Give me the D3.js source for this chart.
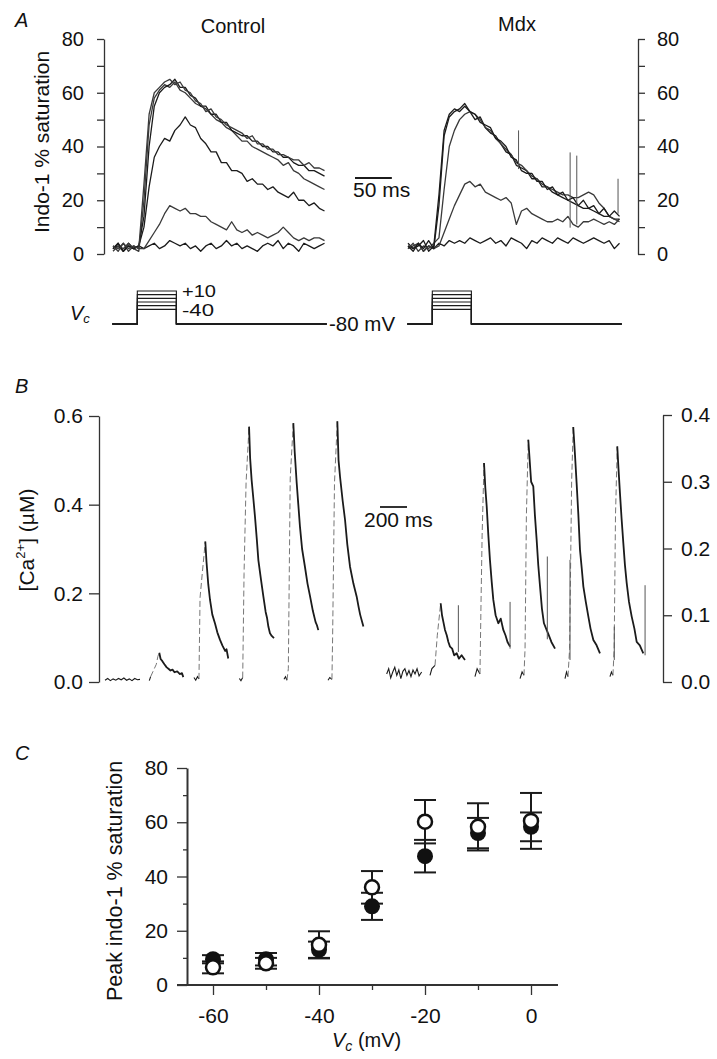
<!DOCTYPE html>
<html><head><meta charset="utf-8">
<script src="https://cdn.jsdelivr.net/npm/d3@7"></script>
<style>
body{margin:0;background:#fff}
svg{display:block}
text{font-family:"Liberation Sans",Arial,Helvetica,sans-serif;fill:#111}
</style>
</head><body>
<svg id="fig" width="717" height="1059"></svg>
<script>
// ---------------- Panel A: indo-1 % saturation traces (time in ms) ----------------
const tA = [0,7,14,21,28,35,42,49,56,63,70,77,84,91,98,105,112,119,126,133,140,147,154,161,168,175,182,189,196,203,210,217,224,231,238,245,252,259,266,273,280,287];
const ctrlA1 = [3,1,4,2,3,2,26,52,60,62,64,65,63,64,61,60,57,56,53,54,51,50,48,47,46,45,43,44,41,41,39,39,37,37,36,35,35,33,34,32,32,31];
const ctrlA2 = [2,4,1,3,2,3,14,40,55,60,62,63,65,62,62,59,58,55,55,52,52,49,49,46,45,44,44,42,42,40,40,38,38,36,36,34,33,33,31,31,30,29];
const ctrlA3 = [1,3,2,4,2,1,20,48,58,61,63,62,64,61,60,58,56,55,54,52,50,49,47,46,44,42,42,40,39,38,37,36,35,33,34,31,30,28,27,26,25,24];
const ctrlA4 = [2,3,1,4,2,3,10,25,36,40,43,42,46,48,51,48,47,43,41,38,38,34,34,31,31,30,27,28,26,26,24,25,23,22,21,23,20,20,18,19,17,16];
const ctrlA5 = [3,2,4,1,3,2,2,5,8,11,15,18,17,16,17,15,15,14,14,12,11,10,9,12,9,8,9,7,8,7,6,7,8,10,8,6,5,6,5,6,6,5];
const ctrlA6 = [2,4,1,3,2,3,2,3,4,2,3,5,4,3,4,2,3,1,3,4,2,3,5,3,4,2,3,2,1,3,4,3,5,2,4,3,1,4,3,2,3,4];
const mdxA1 = [3,1,4,2,5,2,18,44,51,53,54,56,53,52,49,48,47,43,42,40,36,35,31,30,30,27,27,24,25,22,23,20,21,18,20,17,18,15,17,14,16,14];
const mdxA2 = [2,4,1,3,2,4,6,24,40,46,50,52,53,52,50,47,46,43,41,39,37,34,33,31,29,28,26,25,24,23,22,22,21,21,22,23,22,19,17,14,13,12];
const mdxA3 = [4,2,3,5,1,3,22,46,52,54,53,55,53,50,51,47,45,44,41,38,37,33,32,31,28,28,25,25,23,22,21,20,19,18,17,17,16,15,14,14,13,13];
const mdxA4 = [2,3,4,1,3,2,3,8,13,18,22,26,27,25,26,23,22,21,20,21,19,11,16,17,15,14,13,12,12,13,12,14,11,10,12,12,13,12,11,12,11,13];
const mdxA5 = [3,2,4,1,3,2,4,3,5,4,5,4,6,5,4,5,6,4,5,3,6,5,4,2,5,4,6,5,4,6,5,4,6,5,4,5,6,5,4,5,2,4];
// artefact spikes in Mdx traces: [time, from, to]
const mdxSpikesA = [[150,46,31.6],[220,37.8,9.8],[229,36.6,11],[285,28,15]];
const yTicksA = [0,10,20,30,40,50,60,70,80];
// voltage protocol
const vcLevels = [10,0,-10,-20,-30,-40];
const vcHold = -80;
const vcPulse = [33,86];

// ---------------- Panel B: [Ca2+] (uM) sweeps, time in ms ----------------
const ctrlSweepsB = [
  [[0,0.004],[20,0.008],[40,0.003],[60,0.007],[80,0.004],[100,0.008],[120,0.005],[140,0.009],[160,0.004],[180,0.007],[200,0.003],[220,0.008],[240,0.005],[259,0.006]],
  [[328,0.003],[338,0.012],[380,0.04],[392,0.058],[402,0.066],[412,0.052],[425,0.047],[440,0.04],[457,0.033],[470,0.03],[485,0.026],[500,0.028],[515,0.022],[535,0.024],[555,0.018],[570,0.02],[580,0.011]],
  [[659,0.01],[672,0.004],[685,0.012],[696,0.007],[704,0.19],[722,0.25],[743,0.317],[752,0.27],[765,0.22],[778,0.185],[795,0.152],[815,0.132],[832,0.112],[852,0.095],[870,0.082],[890,0.07],[900,0.074],[913,0.053]],
  [[995,0.008],[1007,0.003],[1020,0.01],[1030,0.245],[1045,0.45],[1067,0.576],[1075,0.505],[1086,0.456],[1100,0.41],[1111,0.373],[1125,0.32],[1136,0.275],[1155,0.232],[1173,0.193],[1190,0.158],[1200,0.145],[1210,0.125],[1222,0.11],[1235,0.104],[1252,0.099]],
  [[1326,0.006],[1337,0.012],[1348,0.004],[1358,0.03],[1372,0.46],[1395,0.584],[1405,0.52],[1420,0.449],[1432,0.4],[1444,0.351],[1460,0.3],[1481,0.26],[1500,0.222],[1519,0.193],[1540,0.16],[1560,0.135],[1570,0.128],[1580,0.117]],
  [[1652,0.004],[1665,0.01],[1681,0.006],[1686,0.1],[1700,0.45],[1721,0.588],[1730,0.5],[1741,0.463],[1760,0.41],[1778,0.366],[1795,0.31],[1815,0.26],[1840,0.222],[1864,0.193],[1878,0.17],[1890,0.152],[1914,0.125]]
];
const ctrlBlipEndB = [13,1,3,2,2,2];   // index where the stimulus gap starts
const ctrlPeakB    = [13,4,6,5,5,5];   // index of the peak (dashed rise ends)
const mdxSweepsB = [
  [[5,0.012],[20,0.02],[35,0.006],[50,0.015],[65,0.022],[80,0.01],[95,0.018],[110,0.005],[125,0.016],[140,0.02],[155,0.01],[170,0.017],[185,0.008],[200,0.018],[215,0.012],[230,0.02],[245,0.009],[264,0.015]],
  [[326,0.01],[340,0.02],[363,0.025],[380,0.07],[405,0.118],[415,0.1],[425,0.09],[437,0.078],[450,0.07],[462,0.06],[474,0.053],[490,0.05],[505,0.04],[524,0.043],[540,0.035],[560,0.04],[585,0.033]],
  [[659,0.008],[675,0.02],[696,0.012],[704,0.12],[712,0.22],[726,0.328],[736,0.29],[746,0.263],[758,0.22],[770,0.183],[783,0.15],[795,0.123],[812,0.1],[832,0.088],[850,0.095],[869,0.078],[885,0.07],[900,0.06],[919,0.053]],
  [[993,0.005],[1008,0.015],[1022,0.01],[1030,0.05],[1040,0.25],[1054,0.363],[1065,0.33],[1075,0.3],[1091,0.293],[1103,0.25],[1116,0.213],[1128,0.175],[1141,0.143],[1155,0.11],[1170,0.088],[1186,0.08],[1202,0.072],[1225,0.06],[1252,0.05]],
  [[1326,0.005],[1337,0.015],[1348,0.008],[1360,0.05],[1375,0.3],[1387,0.382],[1400,0.34],[1412,0.298],[1425,0.25],[1437,0.198],[1450,0.17],[1462,0.143],[1480,0.12],[1499,0.098],[1515,0.08],[1536,0.063],[1560,0.055],[1585,0.043]],
  [[1659,0.008],[1670,0.015],[1681,0.01],[1690,0.05],[1700,0.25],[1713,0.353],[1722,0.32],[1733,0.283],[1745,0.245],[1758,0.208],[1770,0.175],[1783,0.148],[1800,0.12],[1820,0.098],[1840,0.08],[1857,0.06],[1880,0.055],[1906,0.043]]
];
const mdxBlipEndB = [17,2,2,2,2,2];
const mdxPeakB    = [17,4,5,5,5,5];
const mdxSpikesB = [[536,0.115,0.045],[919,0.12,0.05],[1195,0.188,0.064],[1363,0.183,0.033],[1691,0.083,0.033],[1919,0.145,0.04]];
const yTicksBl = [0,0.2,0.4,0.6];
const yTicksBr = [0,0.1,0.2,0.3,0.4];

// ---------------- Panel C: peak indo-1 % saturation vs Vc ----------------
const vcC = [-60,-50,-40,-30,-20,-10,0];
const closedC = [9.5,9.5,13,29,47.5,56,58.3];
const closedErrC = [1.5,2.3,3,5,6,5.6,5.3];
const openC = [6.5,8,14.8,36,60.2,58.3,60.5];
const openErrC = [2.2,2,5,6,8,8.7,10.3];
const xTicksC = [-60,-50,-40,-30,-20,-10,0];
const yTicksC = [0,10,20,30,40,50,60,70,80];

// ================= drawing =================
const svg = d3.select("#fig");
const FONT = '"Liberation Sans",Arial,Helvetica,sans-serif';
const INK = "#1b1b1b";

function styleAxis(g, fs) {
  g.attr("font-family", FONT).attr("font-size", fs);
  g.select(".domain").attr("stroke", "#333").attr("stroke-width", 1.3);
  g.selectAll(".tick line").attr("stroke", "#333").attr("stroke-width", 1.3);
  g.selectAll(".tick text").attr("fill", "#111");
}

// ---- Panel A ----
const xAc = d3.scaleLinear().domain([0, 292]).range([113, 328.2]);
const xAm = d3.scaleLinear().domain([0, 292]).range([408, 623.2]);
const yA = d3.scaleLinear().domain([0, 80]).range([254, 39]);

const gAl = svg.append("g").attr("transform", "translate(104,0)")
  .call(d3.axisLeft(yA).tickValues(yTicksA).tickSize(7).tickSizeOuter(0).tickPadding(13)
    .tickFormat(d => d % 20 === 0 ? d : ""));
styleAxis(gAl, 20);
const gAr = svg.append("g").attr("transform", "translate(638,0)")
  .call(d3.axisRight(yA).tickValues(yTicksA).tickSize(7).tickSizeOuter(0).tickPadding(12)
    .tickFormat(d => d % 20 === 0 ? d : ""));
styleAxis(gAr, 20);

function drawA(x, traces) {
  traces.forEach((vals, i) => {
    const pts = tA.map((t, j) => [t, vals[j]]);
    svg.append("path").datum(pts)
      .attr("d", d3.line().x(d => x(d[0])).y(d => yA(d[1])))
      .attr("fill", "none").attr("stroke", i % 2 ? "#3a3a3a" : INK).attr("stroke-width", 1.3)
      .attr("stroke-linejoin", "round");
  });
}
drawA(xAc, [ctrlA6, ctrlA5, ctrlA4, ctrlA3, ctrlA2, ctrlA1]);
drawA(xAm, [mdxA5, mdxA4, mdxA3, mdxA2, mdxA1]);
svg.append("g").selectAll("line").data(mdxSpikesA).join("line")
  .attr("x1", d => xAm(d[0])).attr("x2", d => xAm(d[0]))
  .attr("y1", d => yA(d[1])).attr("y2", d => yA(d[2]))
  .attr("stroke", "#555").attr("stroke-width", 1);

// titles
svg.append("text").attr("x", 233).attr("y", 33).attr("text-anchor", "middle").attr("font-size", 20).text("Control");
svg.append("text").attr("x", 517).attr("y", 31).attr("text-anchor", "middle").attr("font-size", 20).text("Mdx");
// y label A
svg.append("text").attr("transform", "translate(49,142) rotate(-90)").attr("text-anchor", "middle")
  .attr("font-size", 21).text("Indo-1 % saturation");
// panel letters
[["A", 15, 27], ["B", 15, 393], ["C", 15, 760]].forEach(([t, x, y]) =>
  svg.append("text").attr("x", x).attr("y", y).attr("font-size", 20).attr("font-style", "italic").text(t));

// 50 ms scale bar (control time scale)
svg.append("line").attr("x1", 355).attr("x2", 355 + (xAc(50) - xAc(0))).attr("y1", 178).attr("y2", 178)
  .attr("stroke", INK).attr("stroke-width", 1.8);
svg.append("text").attr("x", 353).attr("y", 197).attr("font-size", 21).text("50 ms");

// Voltage protocol
const yV = d3.scaleLinear().domain([-80, 10]).range([324, 291]);
function drawVc(x) {
  vcLevels.forEach(v => {
    const pts = [[-1, vcHold], [vcPulse[0], vcHold], [vcPulse[0], v], [vcPulse[1], v], [vcPulse[1], vcHold], [290, vcHold]];
    svg.append("path").datum(pts).attr("d", d3.line().x(d => x(d[0])).y(d => yV(d[1])))
      .attr("fill", "none").attr("stroke", INK).attr("stroke-width", 1.1);
  });
}
drawVc(xAc); drawVc(xAm);
svg.append("text").attr("x", 182).attr("y", 297).attr("font-size", 17)
  .attr("textLength", 34).attr("lengthAdjust", "spacingAndGlyphs").text("+10");
svg.append("text").attr("x", 182).attr("y", 316.2).attr("font-size", 17)
  .attr("textLength", 32).attr("lengthAdjust", "spacingAndGlyphs").text("-40");
svg.append("text").attr("x", 329).attr("y", 331).attr("font-size", 20.5).text("-80 mV");
const vcT = svg.append("text").attr("x", 70).attr("y", 320).attr("font-size", 20).attr("font-style", "italic");
vcT.append("tspan").text("V");
vcT.append("tspan").attr("font-size", 13).attr("dy", 3).text("c");

// ---- Panel B ----
const xBc = d3.scaleLinear().domain([0, 1920]).range([105, 364.2]);
const xBm = d3.scaleLinear().domain([0, 1920]).range([386, 645.2]);
const yBc = d3.scaleLinear().domain([0, 0.6]).range([682, 416]);
const yBm = d3.scaleLinear().domain([0, 0.4]).range([682, 415]);

const gBl = svg.append("g").attr("transform", "translate(99,0)")
  .call(d3.axisLeft(yBc).tickValues(yTicksBl).tickSize(10).tickSizeOuter(0).tickPadding(6).tickFormat(d3.format(".1f")));
styleAxis(gBl, 21);
const gBr = svg.append("g").attr("transform", "translate(663,0)")
  .call(d3.axisRight(yBm).tickValues(yTicksBr).tickSize(9).tickSizeOuter(0).tickPadding(9).tickFormat(d3.format(".1f")));
styleAxis(gBr, 21);

function drawB(x, y, sweeps, blipEnd, peak) {
  sweeps.forEach((pts, i) => {
    const ln = d3.line().x(d => x(d[0])).y(d => y(d[1]));
    svg.append("path").attr("d", ln(pts.slice(0, blipEnd[i] + 1)))
      .attr("fill", "none").attr("stroke", INK).attr("stroke-width", 1.1);
    if (peak[i] > blipEnd[i]) {
      svg.append("path").attr("d", ln(pts.slice(blipEnd[i], peak[i] + 1)))
        .attr("fill", "none").attr("stroke", "#777").attr("stroke-width", 1).attr("stroke-dasharray", "6,3");
      svg.append("path").attr("d", ln(pts.slice(peak[i])))
        .attr("fill", "none").attr("stroke", INK).attr("stroke-width", 1.8).attr("stroke-linejoin", "round");
    }
  });
}
drawB(xBc, yBc, ctrlSweepsB, ctrlBlipEndB, ctrlPeakB);
drawB(xBm, yBm, mdxSweepsB, mdxBlipEndB, mdxPeakB);
svg.append("g").selectAll("line").data(mdxSpikesB).join("line")
  .attr("x1", d => xBm(d[0])).attr("x2", d => xBm(d[0]))
  .attr("y1", d => yBm(d[1])).attr("y2", d => yBm(d[2]))
  .attr("stroke", "#555").attr("stroke-width", 1);

// 200 ms scale bar
svg.append("line").attr("x1", 380).attr("x2", 380 + (xBm(200) - xBm(0))).attr("y1", 507).attr("y2", 507)
  .attr("stroke", INK).attr("stroke-width", 1.8);
svg.append("text").attr("x", 364).attr("y", 527).attr("font-size", 21).text("200 ms");
// y label B
const caT = svg.append("text").attr("transform", "translate(34,540) rotate(-90)").attr("text-anchor", "middle").attr("font-size", 21);
caT.append("tspan").text("[Ca");
caT.append("tspan").attr("font-size", 13).attr("dy", -9).text("2+");
caT.append("tspan").attr("dy", 9).text("] (µM)");

// ---- Panel C ----
const xC = d3.scaleLinear().domain([-60, 0]).range([213, 531]);
const yC = d3.scaleLinear().domain([0, 80]).range([985, 768]);

const gCx = svg.append("g").attr("transform", "translate(0,985)")
  .call(d3.axisBottom(xC).tickValues(xTicksC).tickSize(10).tickSizeOuter(0).tickPadding(13)
    .tickFormat(d => d % 20 === 0 ? d : ""));
styleAxis(gCx, 21);
gCx.selectAll(".tick line").filter(d => d % 20 !== 0).attr("y2", 5);
gCx.select(".domain").attr("d", "M177,0H558").attr("stroke-width", 2);
const gCy = svg.append("g").attr("transform", "translate(187,0)")
  .call(d3.axisLeft(yC).tickValues(yTicksC).tickSize(10).tickSizeOuter(0).tickPadding(9)
    .tickFormat(d => d % 20 === 0 ? d : ""));
styleAxis(gCy, 21);
gCy.selectAll(".tick line").filter(d => d % 20 !== 0).attr("x2", -4);
gCy.select(".domain").attr("stroke-width", 2);

// error bars
function errBars(vals, errs) {
  const g = svg.append("g").attr("stroke", INK).attr("stroke-width", 2);
  vcC.forEach((v, i) => {
    const x = xC(v), y0 = yC(vals[i] - errs[i]), y1 = yC(vals[i] + errs[i]);
    g.append("line").attr("x1", x).attr("x2", x).attr("y1", y0).attr("y2", y1);
    g.append("line").attr("x1", x - 11).attr("x2", x + 11).attr("y1", y0).attr("y2", y0);
    g.append("line").attr("x1", x - 11).attr("x2", x + 11).attr("y1", y1).attr("y2", y1);
  });
}
errBars(closedC, closedErrC);
errBars(openC, openErrC);
svg.append("g").selectAll("circle").data(vcC).join("circle")
  .attr("cx", d => xC(d)).attr("cy", (d, i) => yC(closedC[i])).attr("r", 8).attr("fill", "#111");
svg.append("g").selectAll("circle").data(vcC).join("circle")
  .attr("cx", d => xC(d)).attr("cy", (d, i) => yC(openC[i])).attr("r", 7).attr("fill", "#fff")
  .attr("stroke", "#111").attr("stroke-width", 2.5);

// axis titles C
svg.append("text").attr("transform", "translate(122,881) rotate(-90)").attr("text-anchor", "middle")
  .attr("font-size", 21.5).text("Peak indo-1 % saturation");
const vxT = svg.append("text").attr("x", 332).attr("y", 1047).attr("font-size", 20);
vxT.append("tspan").attr("font-style", "italic").text("V");
vxT.append("tspan").attr("font-style", "italic").attr("font-size", 14).attr("dy", 4).text("c");
vxT.append("tspan").attr("dy", -4).text(" (mV)");
</script>
</body></html>
